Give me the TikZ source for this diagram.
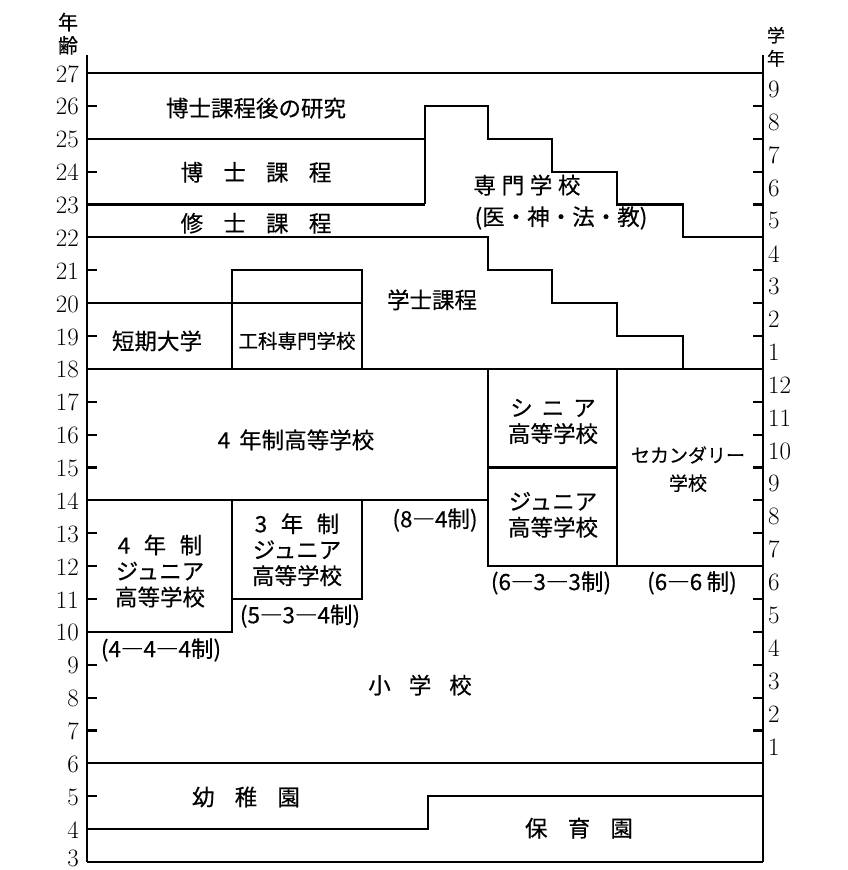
\documentclass[tikz,border=0pt]{standalone}
\usepackage{fontspec}
\newfontfamily\jp{Noto Sans CJK JP}[FakeBold=0.35]
\begin{document}
\begin{tikzpicture}
\useasboundingbox (0pt,0pt) rectangle (848pt,870pt);
\begin{scope}[x=1pt, y=32.875pt, yshift=-90.625pt]
\tikzset{
  bar/.style={line width=2.2pt},
  axisline/.style={line width=2.3pt},
  tickmark/.style={line width=2.2pt},
  jlab/.style={font=\jp\fontsize{22.5}{26}\selectfont, inner sep=0pt, align=center},
  jsmall/.style={font=\jp\fontsize{19.5}{26}\selectfont, inner sep=0pt, align=center},
  num/.style={font=\fontsize{25}{26}\selectfont, inner sep=0pt},
}
% axes
\coordinate (LT) at (87,27.55);
\coordinate (LB) at (87,3);
\coordinate (RT) at (763,27.55);
\coordinate (RB) at (763,3);
\draw[axisline] (LT) -- (LB);
\draw[axisline] (RT) -- (RB);
% left ticks
\foreach \a in {26,24,21,19,17,16,15,13,12,11,9,8,7,5}
  \draw[tickmark] (87,\a) -- (97,\a);
% right ticks
\foreach \a in {26,25,24,23,21,20,19,17,16,15,14,13,11,10,9,8,7}
  \draw[tickmark] (763,\a) -- (753,\a);
% main lines
\draw[bar] (87,27) -- (763,27);
\draw[bar] (87,25) -- (425,25);
\draw[bar] (425,23) -- (425,26) -- (488,26) -- (488,25) -- (552,25) -- (552,24)
  -- (617,24) -- (617,23) -- (683,23) -- (683,22) -- (763,22);
\draw[bar] (87,23) -- (425,23);
\draw[bar] (87,22) -- (488,22) -- (488,21) -- (552,21) -- (552,20) -- (617,20)
  -- (617,19) -- (683,19) -- (683,18);
\draw[bar] (232,18) -- (232,21) -- (362,21) -- (362,18);
\draw[bar] (87,20) -- (362,20);
\draw[bar] (87,18) -- (763,18);
\draw[bar] (87,14) -- (488,14);
\draw[bar] (488,18) -- (488,12) -- (763,12);
\draw[bar] (488,15) -- (617,15);
\draw[bar] (617,18) -- (617,12);
\draw[bar] (232,14) -- (232,10) -- (87,10);
\draw[bar] (362,14) -- (362,11) -- (232,11);
\draw[bar] (87,6) -- (763,6);
\draw[bar] (87,4) -- (428,4) -- (428,5) -- (763,5);
\draw[bar] (87,3) -- (763,3);
% axis numbers
\foreach \a in {4,...,27}
  \node[num, anchor=east] (L\a) at (79,\a-0.03) {\a};
\node[num, anchor=east] (L3) at (79,3.12) {3};
\foreach \g in {1,...,12}
  \node[num, anchor=west] (G\g) at (768,\g+5.5) {\g};
\foreach \n in {1,...,9}
  \node[num, anchor=west] (P\n) at (768,\n+17.5) {\n};
% axis titles
\node[font=\jp\fontsize{20}{20}\selectfont, inner sep=0pt] (nen) at (68,28.55) {年};
\node[font=\jp\fontsize{20}{20}\selectfont, inner sep=0pt] (rei) at (68,27.84) {齢};
\node[font=\jp\fontsize{18}{20}\selectfont, inner sep=0pt] (gaku) at (776,28.15) {学};
\node[font=\jp\fontsize{18}{20}\selectfont, inner sep=0pt] (nen2) at (776,27.45) {年};
% labels
\node[jlab] (postdoc) at (256,25.93) {博士課程後の研究};
\node[jlab] (phd) at (256,23.98) {博\hspace{0.9em}士\hspace{0.9em}課\hspace{0.9em}程};
\node[jlab] (master) at (256,22.43) {修\hspace{0.9em}士\hspace{0.9em}課\hspace{0.9em}程};
\node[jlab, font=\jp\fontsize{22.5}{26}\selectfont] (senmon) at (527,23.59) {専\hspace{0.25em}門\hspace{0.25em}学\hspace{0.25em}校};
\node[jlab] (senmon2) at (561,22.59) {(医・神・法・教)};
\node[jlab] (gakushi) at (432,20.1) {学士課程};
\node[jlab] (tanki) at (157,18.85) {短期大学};
\node[jsmall] (kouka) at (297,18.85) {工科専門学校};
\node[jlab] (hs4) at (296,15.84) {4\hspace{0.4em}年制高等学校};
\node[jlab] (s84) at (435,13.4) {(8―4制)};
\node[jlab] (senior) at (553,16.4) {シ\hspace{0.4em}ニ\hspace{0.4em}ア\\高等学校};
\node[jlab] (junior) at (553,13.56) {ジュニア\\高等学校};
\node[jlab, font=\jp\fontsize{19}{28}\selectfont] (second) at (688,14.95) {セカンダリー\\学校};
\node[jlab] (jh4) at (160,11.85) {4\hspace{0.6em}年\hspace{0.6em}制\\ジュニア\\高等学校};
\node[jlab] (jh3) at (297,12.5) {3\hspace{0.6em}年\hspace{0.6em}制\\ジュニア\\高等学校};
\node[jlab] (s534) at (300,10.48) {(5―3―4制)};
\node[jlab] (s444) at (161,9.45) {(4―4―4制)};
\node[jlab] (s633) at (551,11.49) {(6―3―3制)};
\node[jlab] (s66) at (692,11.49) {(6―6\hspace{0.2em}制)};
\node[jlab] (elem) at (420,8.38) {小\hspace{0.8em}学\hspace{0.8em}校};
\node[jlab] (kinder) at (246,4.98) {幼\hspace{0.9em}稚\hspace{0.9em}園};
\node[jlab] (nursery) at (579,4.03) {保\hspace{0.9em}育\hspace{0.9em}園};
\end{scope}
\end{tikzpicture}
\end{document}
